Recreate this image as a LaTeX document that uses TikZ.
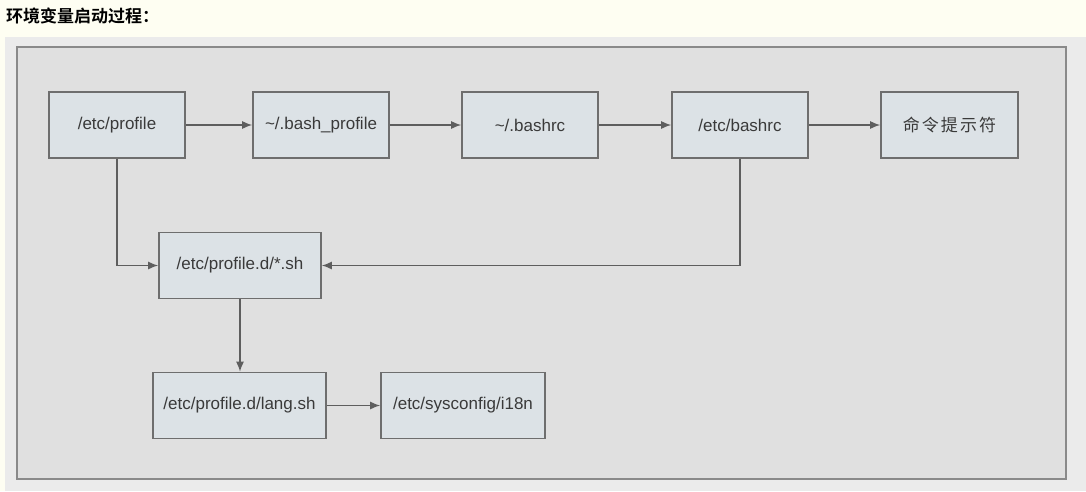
\documentclass[tikz,border=0pt]{standalone}
\usepackage{fontspec}
\setmainfont{Liberation Sans}
\newfontfamily\cjk[LetterSpace=12]{Noto Sans CJK SC}
\newfontfamily\cjkbold{Noto Sans CJK SC Bold}
\usetikzlibrary{arrows.meta}
\definecolor{pagebg}{HTML}{FEFEF2}
\definecolor{panelbg}{HTML}{EBEBEB}
\definecolor{framebg}{HTML}{E0E0E0}
\definecolor{framedraw}{HTML}{8A8A8A}
\definecolor{boxfill}{HTML}{DCE2E6}
\definecolor{boxdraw}{HTML}{6E6E6E}
\definecolor{linecol}{HTML}{5E5E5E}
\definecolor{txt}{HTML}{3A3A3A}
\tikzset{
  fbox/.style={draw=boxdraw, fill=boxfill, line width=1.6pt, minimum height=66pt,
    inner sep=0pt, text=txt, font=\fontsize{17}{19}\selectfont},
  conn/.style={draw=linecol, line width=1.4pt, -{Latex[length=10pt,width=8pt]}}
}
\begin{document}
\begin{tikzpicture}[x=1pt,y=-1pt]
  % page and panels
  \fill[pagebg] (0,0) rectangle (1086,491);
  \useasboundingbox (0,0) rectangle (1086,491);
  \fill[panelbg] (5,37) rectangle (1086,491);
  \draw[framedraw, fill=framebg, line width=2.2pt] (17,47) rectangle (1066,479);
  \node[anchor=west, font=\cjkbold\fontsize{17}{19}\selectfont, inner sep=0pt] (title) at (6,16) {环境变量启动过程：};

  % first row
  \node[fbox, minimum width=136pt] (profile) at (117,125) {/etc/profile};
  \node[fbox, minimum width=136pt] (bashprofile) at (321,125) {\textasciitilde/.bash\_profile};
  \node[fbox, minimum width=136pt] (bashrc) at (530,125) {\textasciitilde/.bashrc};
  \node[fbox, minimum width=136pt] (etcbashrc) at (740,125) {/etc/bashrc};
  \node[fbox, minimum width=137pt, font=\cjk\fontsize{17}{19}\selectfont] (prompt) at (949.5,125) {命令提示符};

  % second and third rows
  \node[fbox, minimum width=162pt] (profiled) at (240,265.5) {/etc/profile.d/*.sh};
  \node[fbox, minimum width=173pt] (langsh) at (239.5,405.5) {/etc/profile.d/lang.sh};
  \node[fbox, minimum width=164pt] (i18n) at (463,405.5) {/etc/sysconfig/i18n};

  % connectors
  \draw[conn] (profile) -- (bashprofile);
  \draw[conn] (bashprofile) -- (bashrc);
  \draw[conn] (bashrc) -- (etcbashrc);
  \draw[conn] (etcbashrc) -- (prompt);
  \draw[conn] (profile.south) |- (profiled.west);
  \draw[conn] (etcbashrc.south) |- (profiled.east);
  \draw[conn] (profiled.south) -- (langsh.north -| profiled.south);
  \draw[conn] (langsh) -- (i18n);
\end{tikzpicture}
\end{document}
